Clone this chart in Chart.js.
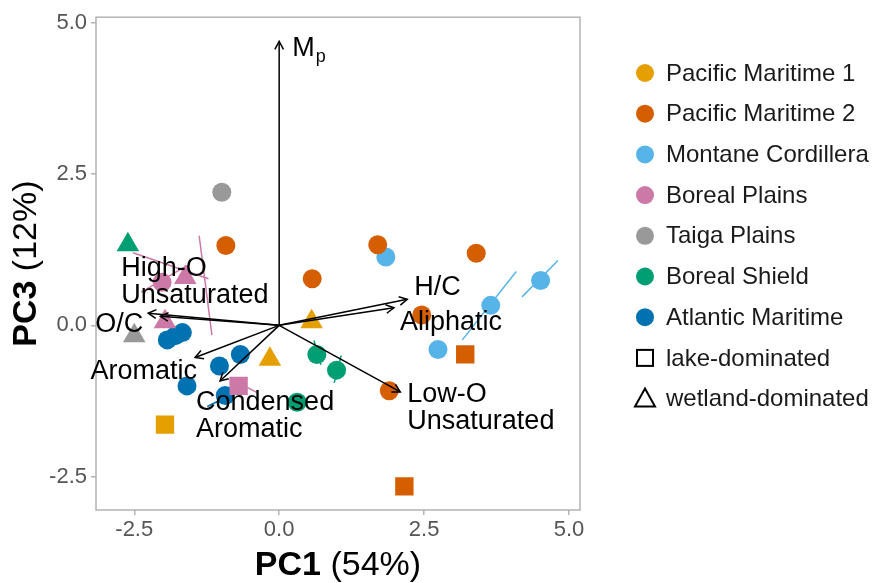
<!DOCTYPE html>
<html>
<head>
<meta charset="utf-8">
<script src="https://cdn.jsdelivr.net/npm/chart.js@4.4.1/dist/chart.umd.min.js"></script>
<style>
    html, body { margin: 0; padding: 0; background: #fff; }
    #wrap { width: 873px; height: 583px; }
</style>
</head>
<body>
<div id="wrap"><canvas id="pcaChart"></canvas></div>
<script>
// Ecozones (colour groups)
let regionNames = ["Pacific Maritime 1", "Pacific Maritime 2", "Montane Cordillera", "Boreal Plains", "Taiga Plains", "Boreal Shield", "Atlantic Maritime"];
let regionColours = ["#E69F00", "#D55E00", "#56B4E9", "#CC79A7", "#999999", "#009E73", "#0072B2"];
let siteTypes = ["lake-dominated", "wetland-dominated"];

// Sample scores. shape: 0 = other, 1 = lake-dominated, 2 = wetland-dominated
let sampleRegion = [0, 0, 0,  1, 1, 1, 1, 1, 1, 1, 1,  2, 2, 2, 2,  3, 3, 3, 3,  4, 4,  5, 5, 5, 5,  6, 6, 6, 6, 6, 6, 6];
let sampleShape  = [2, 2, 1,  0, 0, 0, 0, 0, 0, 1, 1,  0, 0, 0, 0,  2, 0, 2, 1,  0, 2,  2, 0, 0, 0,  0, 0, 0, 0, 0, 0, 0];
let samplePC1 = [0.56, -0.16, -1.97,  -0.92, 0.57, 1.70, 3.40, 2.46, 1.90, 3.21, 2.16,
                 1.84, 3.65, 4.51, 2.74,  -1.62, -2.02, -1.97, -0.70,  -0.99, -2.50,
                 -2.61, 0.65, 0.99, 0.31,  -1.93, -1.79, -1.67, -0.67, -1.03, -1.59, -0.93];
let samplePC3 = [0.06, -0.56, -1.64,  1.32, 0.77, 1.33, 1.19, 0.17, -1.08, -0.48, -2.66,
                 1.13, 0.33, 0.74, -0.40,  0.79, 0.71, 0.06, -1.00,  2.20, -0.17,
                 1.33, -0.48, -0.74, -1.27,  -0.24, -0.17, -0.12, -0.48, -0.67, -1.00, -1.16];

// Spread segments drawn through some samples
let segRegion = [2, 2, 3, 3, 3, 5, 5, 6, 3];
let segPC1Start = [3.16, 4.19, -1.38, -2.52, -2.38, 0.60, 0.95, -1.24, -0.60];
let segPC3Start = [-0.24, 0.47, 1.48, 1.20, 0.55, -0.25, -0.95, -1.34, -1.00];
let segPC1End = [4.09, 4.81, -1.16, -1.22, -1.58, 0.72, 1.07, -0.90, -0.38];
let segPC3End = [0.89, 1.07, -0.16, 0.77, 0.99, -0.65, -0.50, -1.18, -1.11];

// Variable loadings (arrows from origin)
let loadingNames = ["M|p", "H/C", "Aliphatic", "High-O\nUnsaturated", "O/C", "Aromatic", "Condensed\nAromatic", "Low-O\nUnsaturated"];
let loadingPC1 = [0.00, 2.21, 1.98, -2.05, -2.26, -1.45, -1.02, 2.09];
let loadingPC3 = [4.69, 0.43, 0.29, 0.15, 0.20, -0.53, -0.92, -1.10];

// Axes
let xTicks = [-2.5, 0, 2.5, 5];
let yTicks = [-2.5, 0, 2.5, 5];
let xTitle = ["PC1", " (54%)"];
let yTitle = ["PC3", " (12%)"];

// label placement relative to arrow tip (pixels) and alignment
const labelOffsets = [[13, 7, "left"], [7, -12, "left"], [6, 15, "left"], [-39, -48, "left"], [-5, 11, "right"], [2, 14, "right"], [-24, 21, "left"], [7, 3, "left"]];

const shapeStyles = ["circle", "rect", "triangle"];
const shapeRadius = [9.5, 13, 13];
const FONT = "'Liberation Sans', Arial, sans-serif";

let datasets = [];

// points grouped by region
for (let r = 0; r < regionNames.length; r++) {
    let pts = [], styles = [], radii = [];
    for (let i = 0; i < sampleRegion.length; i++) {
        if (sampleRegion[i] != r) continue;
        pts.push({x: samplePC1[i], y: samplePC3[i]});
        styles.push(shapeStyles[sampleShape[i]]);
        radii.push(shapeRadius[sampleShape[i]]);
    }
    datasets.push({
        label: regionNames[r],
        data: pts,
        pointStyle: styles,
        pointRadius: radii,
        pointHoverRadius: radii,
        backgroundColor: regionColours[r],
        borderWidth: 0,
        order: 1
    });
}

// segments
for (let i = 0; i < segRegion.length; i++) {
    datasets.push({
        data: [{x: segPC1Start[i], y: segPC3Start[i]}, {x: segPC1End[i], y: segPC3End[i]}],
        showLine: true,
        borderColor: regionColours[segRegion[i]],
        borderWidth: 1.5,
        pointRadius: 0,
        order: 2
    });
}

// loading arrows
for (let i = 0; i < loadingNames.length; i++) {
    datasets.push({
        data: [{x: 0, y: 0}, {x: loadingPC1[i], y: loadingPC3[i]}],
        showLine: true,
        borderColor: "#000",
        borderWidth: 1.5,
        pointRadius: 0,
        order: 0
    });
}

// panel border, arrowheads, labels, titles and legend
const decorations = {
    id: "decorations",
    beforeDatasetsDraw(chart) {
        const ctx = chart.ctx, a = chart.chartArea;
        ctx.save();
        ctx.strokeStyle = "#b3b3b3";
        ctx.lineWidth = 1.5;
        ctx.strokeRect(a.left, a.top, a.right - a.left, a.bottom - a.top);
        ctx.restore();
    },
    afterDatasetsDraw(chart) {
        const ctx = chart.ctx, xs = chart.scales.x, ys = chart.scales.y;
        const ox = xs.getPixelForValue(0), oy = ys.getPixelForValue(0);
        ctx.save();
        ctx.strokeStyle = "#000";
        ctx.fillStyle = "#000";
        ctx.lineWidth = 1.5;
        for (let i = 0; i < loadingNames.length; i++) {
            let tx = xs.getPixelForValue(loadingPC1[i]);
            let ty = ys.getPixelForValue(loadingPC3[i]);
            let ang = Math.atan2(ty - oy, tx - ox);
            ctx.beginPath();
            ctx.moveTo(tx - 9 * Math.cos(ang - 0.5), ty - 9 * Math.sin(ang - 0.5));
            ctx.lineTo(tx, ty);
            ctx.lineTo(tx - 9 * Math.cos(ang + 0.5), ty - 9 * Math.sin(ang + 0.5));
            ctx.stroke();

            // label
            let [dx, dy, align] = labelOffsets[i];
            let lx = tx + dx, ly = ty + dy;
            ctx.textBaseline = "middle";
            ctx.textAlign = align;
            if (loadingNames[i].indexOf("|") >= 0) {
                let parts = loadingNames[i].split("|");
                ctx.textAlign = "left";
                ctx.font = "27px " + FONT;
                ctx.fillText(parts[0], lx, ly);
                let w = ctx.measureText(parts[0]).width;
                ctx.font = "18px " + FONT;
                ctx.fillText(parts[1], lx + w + 1, ly + 9);
            } else {
                ctx.font = "27px " + FONT;
                let lines = loadingNames[i].split("\n");
                lines.forEach((t, k) => ctx.fillText(t, lx, ly + k * 27));
            }
        }
        ctx.restore();
    },
    afterDraw(chart) {
        const ctx = chart.ctx, a = chart.chartArea;
        ctx.save();
        ctx.fillStyle = "#000";
        ctx.textBaseline = "middle";

        // axis titles: bold + regular
        const drawTitle = (parts, cx, cy, rot) => {
            ctx.save();
            ctx.translate(cx, cy);
            ctx.rotate(rot);
            ctx.font = "bold 34px " + FONT;
            let w0 = ctx.measureText(parts[0]).width;
            ctx.font = "34px " + FONT;
            let w1 = ctx.measureText(parts[1]).width;
            let start = -(w0 + w1) / 2;
            ctx.textAlign = "left";
            ctx.font = "bold 34px " + FONT;
            ctx.fillText(parts[0], start, 0);
            ctx.font = "34px " + FONT;
            ctx.fillText(parts[1], start + w0, 0);
            ctx.restore();
        };
        drawTitle(xTitle, (a.left + a.right) / 2, 566, 0);
        drawTitle(yTitle, 27, (a.top + a.bottom) / 2, -Math.PI / 2);

        // legend
        let lx = 645, ly = 73, step = 40.7;
        ctx.font = "24px " + FONT;
        ctx.textAlign = "left";
        for (let r = 0; r < regionNames.length; r++) {
            let y = ly + r * step;
            ctx.fillStyle = regionColours[r];
            ctx.beginPath();
            ctx.arc(lx, y, 9, 0, Math.PI * 2);
            ctx.fill();
            ctx.fillStyle = "#1a1a1a";
            ctx.fillText(regionNames[r], lx + 21, y + 1);
        }
        ctx.strokeStyle = "#000";
        ctx.lineWidth = 2;
        let ysq = ly + 7 * step;
        ctx.strokeRect(lx - 8, ysq - 8, 16, 16);
        ctx.fillText(siteTypes[0], lx + 21, ysq + 1);
        let ytr = ly + 8 * step;
        ctx.beginPath();
        ctx.moveTo(lx, ytr - 10);
        ctx.lineTo(lx + 10, ytr + 8);
        ctx.lineTo(lx - 10, ytr + 8);
        ctx.closePath();
        ctx.stroke();
        ctx.fillText(siteTypes[1], lx + 21, ytr + 1);
        ctx.restore();
    }
};

const tickColour = "#b3b3b3";
const pcaChart = document.getElementById("pcaChart");

new Chart(pcaChart, {
    type: "scatter",
    data: { datasets: datasets },
    options: {
        responsive: true,
        maintainAspectRatio: false,
        animation: false,
        layout: { padding: { top: 11, right: 293, left: 0, bottom: 0 } },
        plugins: {
            legend: { display: false },
            tooltip: { enabled: false }
        },
        hover: { mode: null },
        scales: {
            x: {
                type: "linear",
                min: -3.16,
                max: 5.19,
                afterBuildTicks: (scale) => { scale.ticks = xTicks.map(v => ({ value: v })); },
                afterFit: (scale) => { scale.height = 73; },
                ticks: {
                    font: { size: 22, family: FONT },
                    color: "#555555",
                    padding: 2,
                    callback: (v) => v.toFixed(1)
                },
                grid: { drawOnChartArea: false, drawTicks: true, tickLength: 5, color: tickColour, lineWidth: 1.5 },
                border: { display: false }
            },
            y: {
                type: "linear",
                min: -3.05,
                max: 5.09,
                afterBuildTicks: (scale) => { scale.ticks = yTicks.map(v => ({ value: v })); },
                afterFit: (scale) => { scale.width = 96; },
                ticks: {
                    font: { size: 22, family: FONT },
                    color: "#555555",
                    padding: 4,
                    callback: (v) => v.toFixed(1)
                },
                grid: { drawOnChartArea: false, drawTicks: true, tickLength: 5, color: tickColour, lineWidth: 1.5 },
                border: { display: false }
            }
        }
    },
    plugins: [decorations]
});
</script>
</body>
</html>
